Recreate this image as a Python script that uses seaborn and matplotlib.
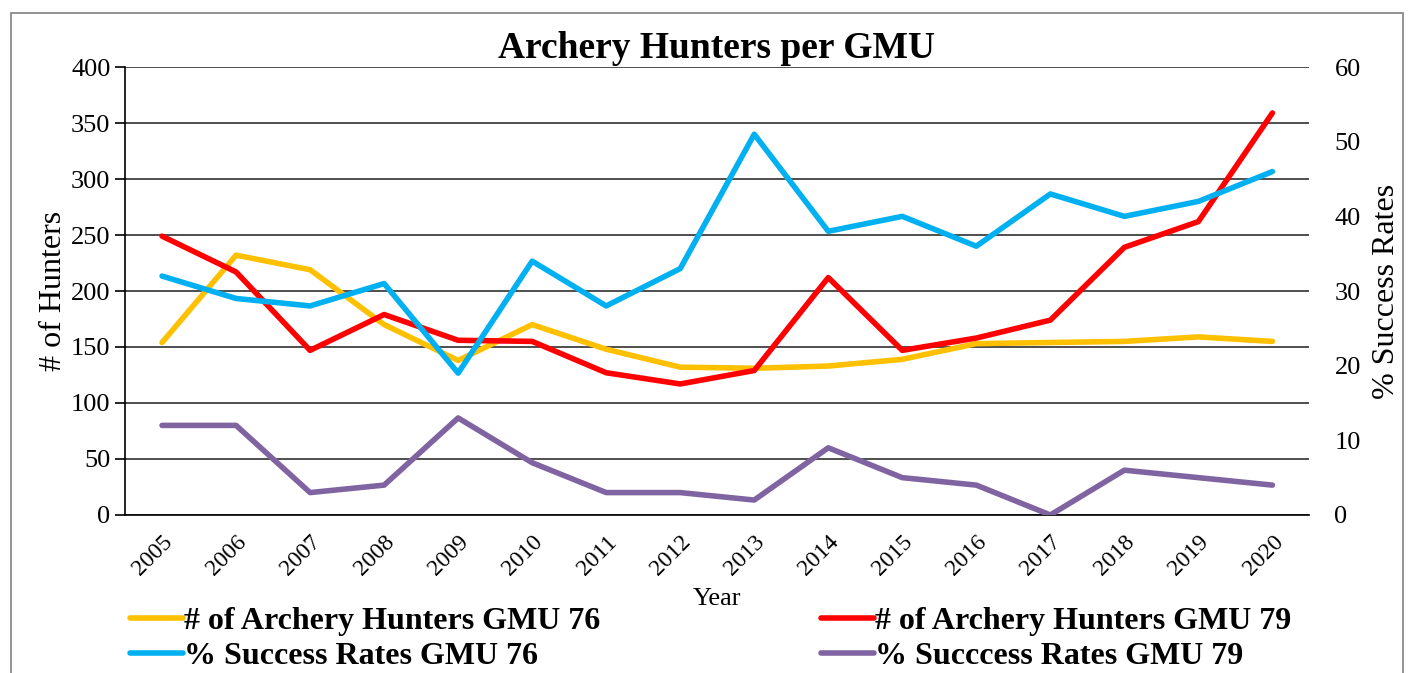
import matplotlib
matplotlib.use('Agg')
import matplotlib.pyplot as plt
import seaborn as sns
import pandas as pd
from matplotlib.patches import Rectangle

# Данные
years = ['2005', '2006', '2007', '2008', '2009', '2010', '2011', '2012',
         '2013', '2014', '2015', '2016', '2017', '2018', '2019', '2020']
hunters_76 = [154, 232, 219, 170, 138, 170, 148, 132, 131, 133, 139, 153, 154, 155, 159, 155]
hunters_79 = [249, 217, 147, 179, 156, 155, 127, 117, 129, 212, 147, 158, 174, 239, 262, 359]
success_76 = [32, 29, 28, 31, 19, 34, 28, 33, 51, 38, 40, 36, 43, 40, 42, 46]
success_79 = [12, 12, 3, 4, 13, 7, 3, 3, 2, 9, 5, 4, 0, 6, 5, 4]

df = pd.DataFrame({'Year': years, 'h76': hunters_76, 'h79': hunters_79,
                   's76': success_76, 's79': success_79})

sns.set_style('white')
plt.rcParams['font.family'] = ['Liberation Serif', 'DejaVu Serif']
plt.rcParams['text.color'] = 'black'
plt.rcParams['axes.labelcolor'] = 'black'
plt.rcParams['xtick.color'] = 'black'
plt.rcParams['ytick.color'] = 'black'

fig, ax = plt.subplots(figsize=(14.08, 6.73), dpi=100)
fig.subplots_adjust(left=0.0888, right=0.930, top=0.9004, bottom=0.2348)
ax2 = ax.twinx()

lw = 4
sns.lineplot(data=df, x='Year', y='h76', ax=ax, color='#FFC000', lw=lw,
             label='# of Archery Hunters GMU 76', legend=False)
sns.lineplot(data=df, x='Year', y='h79', ax=ax, color='#FF0000', lw=lw,
             label='# of Archery Hunters GMU 79', legend=False)
sns.lineplot(data=df, x='Year', y='s76', ax=ax2, color='#00B0F0', lw=lw,
             label='% Success Rates GMU 76', legend=False)
sns.lineplot(data=df, x='Year', y='s79', ax=ax2, color='#8064A2', lw=lw,
             label='% Succcess Rates GMU 79', legend=False)

# Оси
ax.set_xlim(-0.5, len(years) - 0.5)
ax.set_ylim(0, 400)
ax.set_yticks(range(0, 401, 50))
ax2.set_ylim(0, 60)
ax2.set_yticks(range(0, 61, 10))
ax.yaxis.grid(True, color='#303030', lw=1.2)
ax.set_axisbelow(True)

ax.set_xticks(range(len(years)))
ax.set_xticklabels(years, rotation=45, ha='right', rotation_mode='anchor')
ax.set_xticks([i - 0.5 for i in range(len(years) + 1)], minor=True)
ax.tick_params(axis='x', which='major', length=0, labelsize=17, pad=12)
ax.tick_params(axis='x', which='minor', length=7, width=1.2, direction='out', color='black')
ax.tick_params(axis='y', length=7, width=1.2, direction='out', labelsize=19, color='black', left=True)
ax2.tick_params(axis='y', length=0, labelsize=19, pad=18)

for s in ['top', 'right']:
    ax.spines[s].set_visible(False)
for s in ['top', 'right', 'left', 'bottom']:
    ax2.spines[s].set_visible(False)
ax.spines['left'].set_color('black')
ax.spines['bottom'].set_color('black')
ax.spines['left'].set_linewidth(1.2)
ax.spines['bottom'].set_linewidth(1.2)

ax.set_xlabel('Year', fontsize=19, labelpad=6)
ax.set_ylabel('# of Hunters', fontsize=23, labelpad=2)
ax2.set_ylabel('% Success Rates', fontsize=23, labelpad=8)

fig.text(0.509, 0.928, 'Archery Hunters per GMU', ha='center', va='center',
         fontsize=27, fontweight='bold')

# Легенда внизу
h1, l1 = ax.get_legend_handles_labels()
h2, l2 = ax2.get_legend_handles_labels()
handles = [h1[0], h2[0], h1[1], h2[1]]
labels = [l1[0], l2[0], l1[1], l2[1]]
fig.legend(handles, labels, loc='lower left', bbox_to_anchor=(0.072, -0.040), ncol=2,
           frameon=False, prop={'weight': 'bold', 'size': 23},
           handlelength=1.65, handletextpad=0.05, columnspacing=6.9, labelspacing=0.18)

# Рамка вокруг диаграммы
fig.patches.append(Rectangle((0.0075, -0.05), 0.989, 1.03, transform=fig.transFigure,
                             fill=False, edgecolor='#808080', lw=1.2))

plt.savefig('out.png', dpi=100)
